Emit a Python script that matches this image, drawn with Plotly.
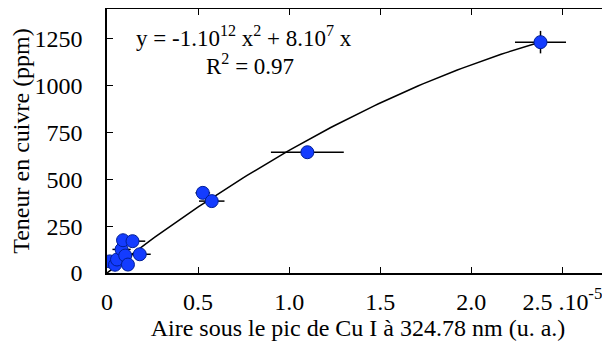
import numpy as np
import plotly.graph_objects as go

# data (x in units of 1e-5)
aire = [0.015, 0.044, 0.055, 0.08, 0.10, 0.115, 0.18, 0.088, 0.14, 0.526, 0.575, 1.10, 2.38]
teneur = [62, 44, 72, 126, 93, 45, 100, 175, 170, 428, 384, 645, 1233]
err_aire = [0.03, 0.03, 0.04, 0.05, 0.04, 0.03, 0.06, 0.03, 0.07, 0.04, 0.07, 0.2, 0.14]
err_teneur = [0, 0, 0, 0, 0, 0, 0, 0, 0, 0, 0, 0, 60]

# polynomial fit through origin: y = a x^2 + b x
fit_a = -99.0
fit_b = 754.0
fit_xmax = 2.38

x_ticks = [0, 0.5, 1.0, 1.5, 2.0, 2.5]
x_ticklabels = ["0", "0.5", "1.0", "1.5", "2.0", "2.5 .10<sup>-5</sup>"]
y_ticks = [0, 250, 500, 750, 1000, 1250]

FONT = "Liberation Serif, Times New Roman, serif"
FS = 24

fit_x = np.linspace(0, fit_xmax, 100)
fit_y = fit_a * fit_x ** 2 + fit_b * fit_x

fig = go.Figure()

fig.add_trace(go.Scatter(
    x=fit_x, y=fit_y, mode="lines",
    line=dict(color="black", width=1.5),
    hoverinfo="skip", showlegend=False
))

fig.add_trace(go.Scatter(
    x=aire, y=teneur, mode="markers",
    marker=dict(size=13, color="rgb(20,60,255)",
                line=dict(color="rgb(0,30,150)", width=1)),
    error_x=dict(type="data", array=err_aire, color="black", thickness=1.5, width=0),
    error_y=dict(type="data", array=err_teneur, color="black", thickness=1.5, width=0),
    showlegend=False
))

fig.update_xaxes(
    range=[0, 2.756], tickvals=x_ticks, ticktext=x_ticklabels,
    ticks="inside", ticklen=6, tickcolor="black",
    showline=True, linecolor="black", linewidth=1.5, mirror="ticks",
    showgrid=False, zeroline=False, ticklabelstandoff=6, automargin=False,
    tickfont=dict(family=FONT, size=FS, color="black"),
    title=dict(text="Aire sous le pic de Cu I à 324.78 nm (u. a.)",
               font=dict(family=FONT, size=FS, color="black"), standoff=6)
)
fig.update_yaxes(
    range=[0, 1410], tickvals=y_ticks,
    ticks="inside", ticklen=6, tickcolor="black",
    showline=True, linecolor="black", linewidth=1.5,
    showgrid=False, zeroline=False, ticklabelstandoff=18, automargin=False,
    tickfont=dict(family=FONT, size=FS, color="black"),
    title=dict(text="Teneur en cuivre (ppm)",
               font=dict(family=FONT, size=FS, color="black"), standoff=11)
)

fig.add_annotation(
    x=0.75, xref="x", y=1261, yref="y",
    text="y = -1.10<sup>12</sup> x<sup>2</sup> + 8.10<sup>7</sup> x",
    showarrow=False, font=dict(family=FONT, size=23, color="black")
)
fig.add_annotation(
    x=0.785, xref="x", y=1113, yref="y",
    text="R<sup>2</sup> = 0.97",
    showarrow=False, font=dict(family=FONT, size=23, color="black")
)

# the page puts the figure 8 px in from the top-left corner
fig.update_layout(
    width=602, height=337,
    margin=dict(l=99, r=1, t=1, b=72),
    plot_bgcolor="white", paper_bgcolor="white",
    font=dict(family=FONT),
)

fig.write_html("out.html")
